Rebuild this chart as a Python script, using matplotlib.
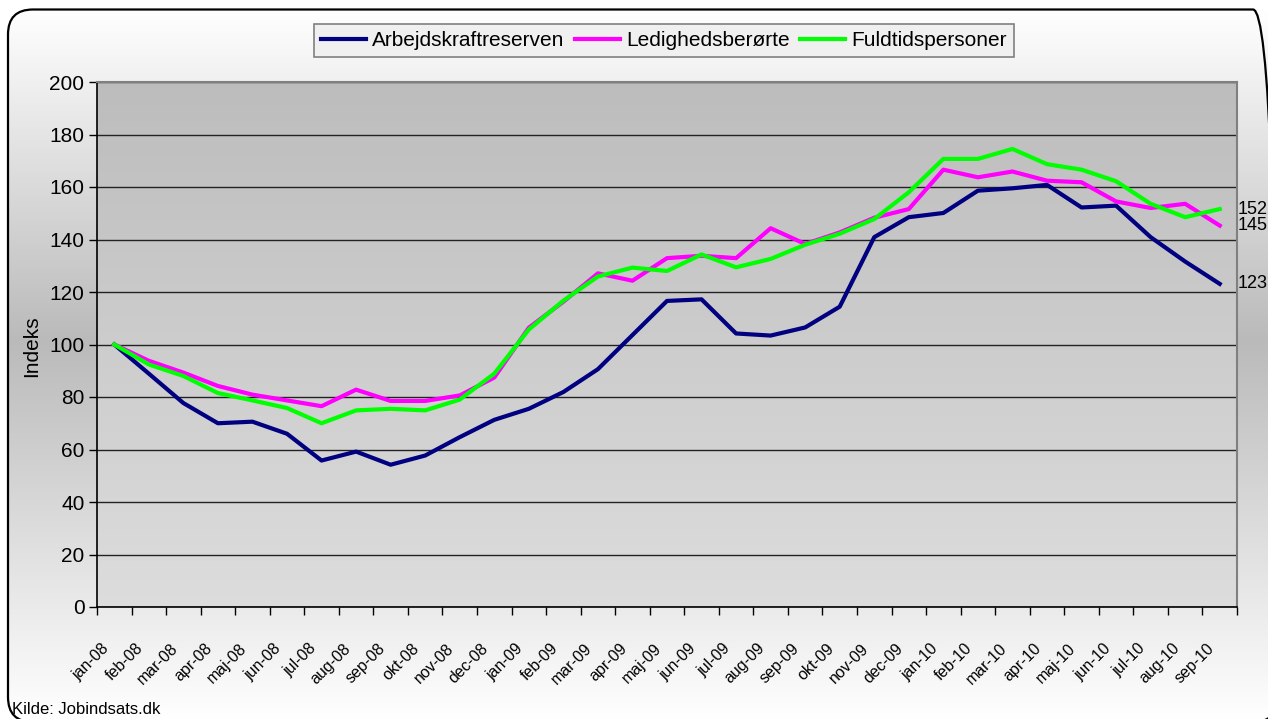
import numpy as np
import matplotlib.pyplot as plt
from matplotlib.patches import FancyBboxPatch
from matplotlib.transforms import blended_transform_factory, ScaledTranslation

# Måneder (kategoriakse)
maaneder = ["jan-08", "feb-08", "mar-08", "apr-08", "maj-08", "jun-08", "jul-08",
            "aug-08", "sep-08", "okt-08", "nov-08", "dec-08",
            "jan-09", "feb-09", "mar-09", "apr-09", "maj-09", "jun-09", "jul-09",
            "aug-09", "sep-09", "okt-09", "nov-09", "dec-09",
            "jan-10", "feb-10", "mar-10", "apr-10", "maj-10", "jun-10", "jul-10",
            "aug-10", "sep-10"]

# Indeks, jan-08 = 100
arbejdskraftreserven = [100, 88.9, 77.7, 70.0, 70.6, 66.0, 55.8, 59.2, 54.2, 57.7, 64.7, 71.3,
                        75.5, 81.9, 90.6, 103.6, 116.6, 117.2, 104.2, 103.4, 106.5, 114.4,
                        140.9, 148.5, 150.1, 158.6, 159.5, 160.8, 152.2, 152.9, 140.9,
                        131.6, 123.1]
ledighedsberoerte = [100, 93.8, 89.3, 84.2, 80.9, 78.7, 76.5, 82.8, 78.5, 78.5, 80.6, 87.4,
                     106.4, 116.3, 127.1, 124.3, 132.9, 133.8, 132.9, 144.3, 138.3, 142.7,
                     148.3, 151.6, 166.6, 163.7, 165.9, 162.4, 161.8, 154.5, 152.0,
                     153.6, 145.3]
fuldtidspersoner = [100, 92.4, 88.0, 81.5, 78.7, 75.8, 70.0, 74.9, 75.5, 74.9, 79.0, 88.9,
                    105.7, 116.7, 125.9, 129.3, 128.0, 134.3, 129.4, 132.6, 138.0, 142.2,
                    147.8, 158.0, 170.7, 170.7, 174.5, 168.7, 166.6, 162.2, 153.6,
                    148.5, 151.6]

serier = [("Arbejdskraftreserven", arbejdskraftreserven, "#000080"),
          ("Ledighedsberørte", ledighedsberoerte, "#ff00ff"),
          ("Fuldtidspersoner", fuldtidspersoner, "#00ff00")]

plt.rcParams['font.family'] = ['Liberation Sans', 'DejaVu Sans']

W, H = 1268, 719
fig = plt.figure(figsize=(W / 100, H / 100), dpi=100)

# Baggrund med afrundet ramme og lodret gradient (hvid - grå - hvid)
bg = fig.add_axes([0, 0, 1, 1], zorder=-10)
bg.set_xlim(0, W)
bg.set_ylim(0, H)
bg.axis('off')
graa = np.interp(np.arange(H), [10, 340, H], [1.0, 0.73, 1.0])
billede = np.repeat(np.repeat(graa[:, None], 2, axis=1)[:, :, None], 3, axis=2)
im = bg.imshow(billede, extent=(0, W, 0, H), origin='upper', aspect='auto',
               interpolation='bilinear')
# ramme fra x=8 til 1278 og y=9.5 til 722 (pixel fra toppen)
ramme = FancyBboxPatch((8, H - 722), 1270, 712.5, boxstyle="round,pad=0,rounding_size=25",
                       facecolor='none', edgecolor='black', lw=1.6)
bg.add_patch(ramme)
im.set_clip_path(ramme)

# Plotområde
ax = fig.add_axes([97 / W, 1 - 607 / H, 1140 / W, 525 / H])
plotgraa = np.linspace(0.74, 0.865, 100)
ax.imshow(np.repeat(np.repeat(plotgraa[:, None], 2, axis=1)[:, :, None], 3, axis=2),
          extent=(0, 1, 0, 1), transform=ax.transAxes, aspect='auto', zorder=0,
          interpolation='bilinear')

x = np.arange(len(maaneder))
for navn, vaerdier, farve in serier:
    ax.plot(x, vaerdier, color=farve, lw=3, label=navn, zorder=3)

ax.set_xlim(-0.5, len(maaneder) - 0.5)
ax.set_ylim(0, 200)
ax.set_aspect('auto')

ax.set_yticks(np.arange(0, 201, 20))
ax.yaxis.grid(True, color='#222222', lw=1)
ax.set_axisbelow(True)
ax.tick_params(axis='y', labelsize=15, length=6, width=1, direction='out', pad=3)

# Kategoriakse: streger mellem månederne, etiketter i midten
ax.set_xticks([])
ax.set_xticks(np.arange(-0.5, len(maaneder)), minor=True)
ax.tick_params(axis='x', which='minor', length=6, width=1, direction='out')

trans = blended_transform_factory(ax.transData, ax.transAxes)
forskyd = ScaledTranslation(-8 / 100, -39 / 100, fig.dpi_scale_trans)
for i, m in enumerate(maaneder):
    ax.text(i, 0, m, transform=trans + forskyd, rotation=45, ha='right', va='center',
            rotation_mode='anchor', fontsize=11.5)

for side in ['left', 'bottom']:
    ax.spines[side].set_color('black')
    ax.spines[side].set_linewidth(1.2)
for side in ['top', 'right']:
    ax.spines[side].set_color('#808080')
    ax.spines[side].set_linewidth(1.5)

# Slutværdier til højre
for navn, vaerdier, farve in serier:
    ax.annotate(f"{vaerdier[-1]:.0f}", xy=(1, vaerdier[-1]),
                xycoords=blended_transform_factory(ax.transAxes, ax.transData),
                xytext=(0.5, 0), textcoords='offset points', va='center', ha='left',
                fontsize=13, annotation_clip=False)

fig.text(32 / W, 1 - 346 / H, "Indeks", rotation=90, ha='center', va='center', fontsize=15)
fig.text(12 / W, 1 - 714 / H, "Kilde: Jobindsats.dk", ha='left', va='baseline', fontsize=12)

leg = ax.legend(loc='center', bbox_to_anchor=(664 / W, 1 - 40.5 / H),
                bbox_transform=fig.transFigure, ncol=3, fontsize=15, frameon=True,
                fancybox=False, edgecolor='#808080', facecolor='#f0f0f0', framealpha=1,
                handlelength=2.15, handletextpad=0.3, columnspacing=0.5,
                borderpad=0.35, borderaxespad=0)
leg.get_frame().set_linewidth(1.2)

fig.savefig("out.png", dpi=100)
